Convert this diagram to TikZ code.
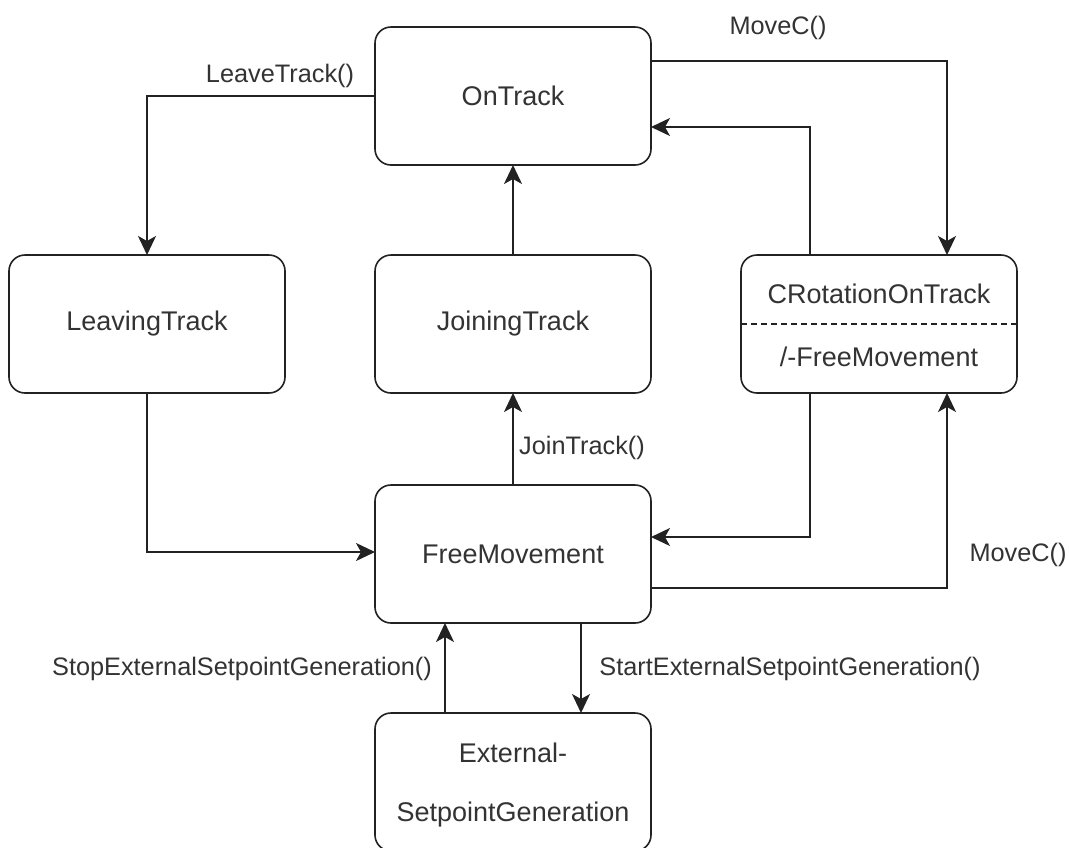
\documentclass[tikz,border=0pt]{standalone}
\usepackage{fontspec}
\setmainfont{Liberation Sans}
\usetikzlibrary{arrows.meta}
\definecolor{ink}{HTML}{222222}
\definecolor{txt}{HTML}{333333}
\tikzset{
  state/.style={draw=ink, line width=1.6pt, rounded corners=16pt, fill=white,
    minimum width=276pt, minimum height=138pt, inner sep=0pt, outer sep=0pt,
    text=txt, font=\fontsize{27}{32}\selectfont},
  caption/.style={text=txt, font=\fontsize{25.3}{30}\selectfont, inner sep=0pt},
  boxtext/.style={text=txt, font=\fontsize{27}{32}\selectfont, inner sep=0pt},
  flow/.style={draw=ink, line width=1.6pt,
    -{Stealth[length=19pt, width=18pt, inset=5pt]}},
}
\begin{document}
\begin{tikzpicture}[x=1pt, y=-1pt]
  \useasboundingbox (0,0) rectangle (1069,847);
  \clip (0,0) rectangle (1069,847);
  \fill[white] (0,0) rectangle (1069,847);

  % states
  \node[state] (on)    at (513,96)  {OnTrack};
  \node[state] (leave) at (147,324) {LeavingTrack};
  \node[state] (join)  at (513,324) {JoiningTrack};
  \node[state] (crot)  at (879,324) {};
  \node[state] (free)  at (513,554) {FreeMovement};
  \node[state] (ext)   at (513,782) {};

  % split state: rotation on track / free movement
  \draw[ink, line width=1.4pt, dash pattern=on 6pt off 4pt]
    (crot.west) -- (crot.east);
  \node[boxtext] (crotA) at (879,294) {CRotationOnTrack};
  \node[boxtext] (crotB) at (879,357) {/-FreeMovement};

  % external setpoint generation, two-line label
  \node[boxtext] (extA) at (513,753) {External-};
  \node[boxtext] (extB) at (513,815) {SetpointGeneration};

  % transitions
  \draw[flow] (on.west) -| (leave.north);
  \draw[flow] ([yshift=35pt]on.east) -| ([xshift=68pt]crot.north);
  \draw[flow] ([xshift=-69pt]crot.north) |- ([yshift=-31pt]on.east);
  \draw[flow] (join.north) -- (on.south);
  \draw[flow] (free.north) -- (join.south);
  \draw[flow] (leave.south) |- ([yshift=2pt]free.west);
  \draw[flow] ([xshift=-69pt]crot.south) |- ([yshift=17pt]free.east);
  \draw[flow] ([yshift=-34pt]free.east) -| ([xshift=68pt]crot.south);
  \draw[flow] ([xshift=68pt]free.south) -- ([xshift=68pt]ext.north);
  \draw[flow] ([xshift=-68pt]ext.north) -- ([xshift=-68pt]free.south);

  % transition labels
  \node[caption] (lLeave) at (280,76)  {LeaveTrack()};
  \node[caption] (lMove1) at (778,28)  {MoveC()};
  \node[caption] (lJoin)  at (582,448) {JoinTrack()};
  \node[caption] (lMove2) at (1018,555) {MoveC()};
  \node[caption] (lStop)  at (242,669) {StopExternalSetpointGeneration()};
  \node[caption] (lStart) at (790,669) {StartExternalSetpointGeneration()};
\end{tikzpicture}
\end{document}
